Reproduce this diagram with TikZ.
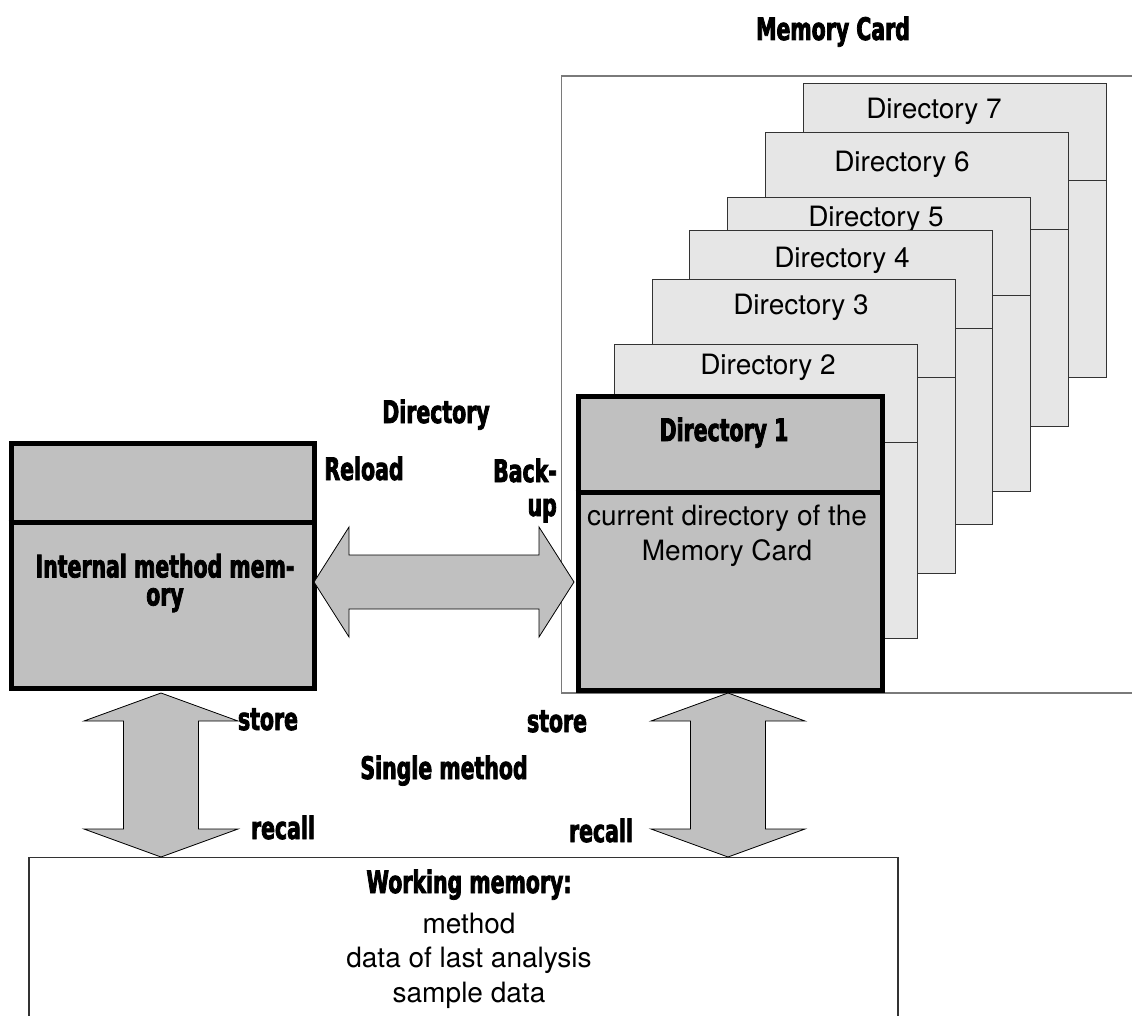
\documentclass[tikz,border=0pt]{standalone}
\usepackage{fontspec}
\newfontfamily\heavy[FakeStretch=0.66,FakeBold=2.5,UprightFont={* Bold}]{DejaVu Sans}
\newfontfamily\light{TeX Gyre Heros}
\definecolor{dirfill}{HTML}{E6E6E6}
\definecolor{boxfill}{HTML}{C0C0C0}
\definecolor{edge}{HTML}{333333}
\definecolor{cardedge}{HTML}{7A7A7A}
\begin{document}
\begin{tikzpicture}[x=1pt,y=-1pt,
  lbl/.style={font=\heavy\fontsize{31}{28}\selectfont, inner sep=0pt, anchor=base},
  lt/.style={font=\light\fontsize{28}{35}\selectfont, inner sep=0pt, anchor=base},
  dirbox/.style={draw=edge, line width=1.2pt, fill=dirfill, anchor=north west, minimum width=303pt, minimum height=294pt, inner sep=0pt},
  thickbox/.style={draw=black, line width=5pt, fill=boxfill, anchor=north west, inner sep=0pt},
  blockarrow/.style={fill=boxfill, draw=black, line width=0.8pt, line join=miter}
]
\useasboundingbox (0,0) rectangle (1132,1016);

% title
\node[lbl] (title) at (833,40) {Memory Card};

% memory card outline
\draw[cardedge, line width=1.5pt] (1140,76) -- (561.5,76) -- (561.5,693) -- (1140,693);

% directories 7..2
\foreach \n/\L/\T/\tx/\bl in {7/803/83/934/119, 6/765/132/902/172, 5/727/197/876/227, 4/689/230/842/268, 3/652/279/801/314, 2/614/344/768/374}{
  \node[dirbox] (d\n) at (\L,\T) {};
  \draw[edge, line width=1pt] (\L,\T+98) -- (\L+303,\T+98);
  \node[lt] (t\n) at (\tx,\bl) {Directory \n};
}

% directory 1
\node[thickbox, minimum width=304pt, minimum height=294pt] (d1) at (575.5,393.5) {};
\draw[line width=5pt] (d1.west |- 0,492) -- (d1.east |- 0,492);
\node[lbl] (t1) at (724,441) {Directory 1};
\node[lt] (c1) at (727,525) {current directory of the};
\node[lt] (c2) at (727,560) {Memory Card};

% internal method memory
\node[thickbox, minimum width=303pt, minimum height=245pt] (imm) at (8.5,440.5) {};
\draw[line width=5pt] (imm.west |- 0,522) -- (imm.east |- 0,522);
\node[lbl, align=center, anchor=center] (imm1) at (165,583) {Internal method mem-\\ory};

% working memory box
\draw[edge, line width=1.3pt] (29,1020) -- (29,857.5) -- (898,857.5) -- (898,1020);
\node[lbl] (wm) at (469,893) {Working memory:};
\node[lt] (wm1) at (469,933) {method};
\node[lt] (wm2) at (469,967) {data of last analysis};
\node[lt] (wm3) at (469,1002) {sample data};

% horizontal double arrow (Reload / Back-up)
\coordinate (hl) at (314,582);
\coordinate (hr) at (574,582);
\draw[blockarrow] (hl) -- (349,527) -- (349,555) -- (539,555) -- (539,527) -- (hr)
  -- (539,637) -- (539,609) -- (349,609) -- (349,637) -- cycle;
\node[lbl] (dirlbl) at (436,423) {Directory};
\node[lbl] (reload) at (364,480) {Reload};
\node[lbl, anchor=base east] (back) at (557,482) {Back-};
\node[lbl, anchor=base east] (up) at (557,516) {up};

% vertical double arrows
\foreach \cx/\nm in {161/va, 728/vb}{
  \coordinate (\nm t) at (\cx,693);
  \coordinate (\nm b) at (\cx,857);
  \draw[blockarrow] (\nm t) -- (\cx+77,721) -- (\cx+37.5,721) -- (\cx+37.5,829) -- (\cx+77,829)
    -- (\nm b) -- (\cx-77,829) -- (\cx-37.5,829) -- (\cx-37.5,721) -- (\cx-77,721) -- cycle;
}
\node[lbl] (store1) at (268,730) {store};
\node[lbl] (recall1) at (283,839) {recall};
\node[lbl] (store2) at (557,732) {store};
\node[lbl] (recall2) at (601,842) {recall};
\node[lbl] (single) at (444,779) {Single method};
\end{tikzpicture}
\end{document}
